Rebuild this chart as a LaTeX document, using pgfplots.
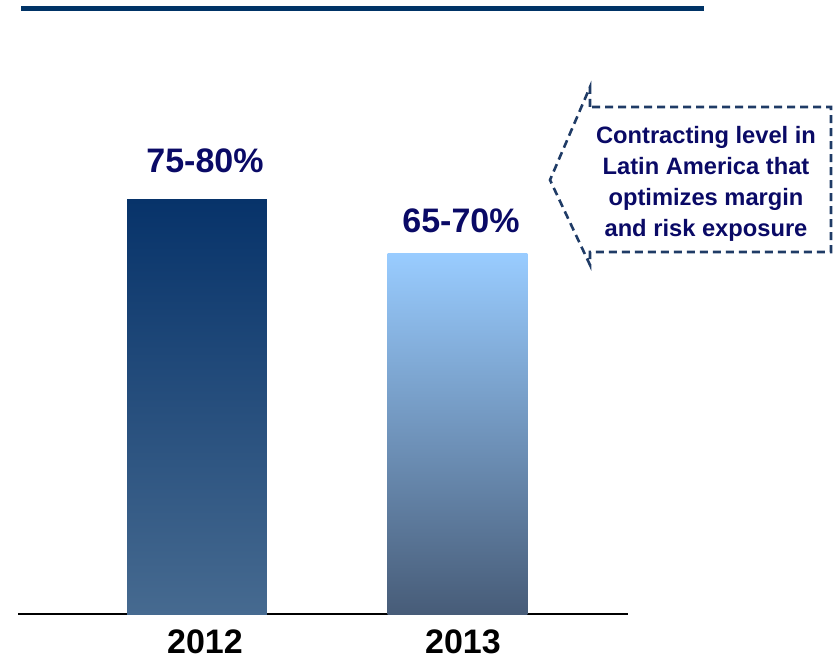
\documentclass[border=0pt]{standalone}
\usepackage{pgfplots}
\pgfplotsset{compat=1.18}
\usepackage{fontspec}
\setmainfont{Liberation Sans}
\definecolor{topline}{HTML}{003366}
\definecolor{aTop}{HTML}{07336A}
\definecolor{aMid}{HTML}{2D4B78}
\definecolor{aBot}{HTML}{466A90}
\definecolor{bTop}{HTML}{99CCFF}
\definecolor{bMid}{HTML}{7A9CC6}
\definecolor{bBot}{HTML}{475C78}
\definecolor{navytext}{HTML}{0A0A66}
\definecolor{callout}{HTML}{1F3B66}
\begin{document}
\begin{tikzpicture}[x=1pt,y=1pt]
\useasboundingbox (0,0) rectangle (834,659);
% top rule
\fill[topline] (21,648) rectangle (704,653);
\begin{axis}[
  at={(18pt,45pt)}, anchor=south west,
  scale only axis, width=610pt, height=534.2pt,
  xmin=-0.687, xmax=1.6545, ymin=0, ymax=100,
  axis x line=bottom, axis y line=none,
  x axis line style={-, line width=1.4pt, black},
  xtick=\empty, ytick=\empty,
  clip=false,
]
\addplot[ybar, bar width=0.537, bar shift=0pt, draw=none,
  top color=aTop, middle color=aMid, bottom color=aBot] coordinates {(0,77.5)};
\addplot[ybar, bar width=0.537, bar shift=0pt, draw=none,
  top color=bTop, middle color=bMid, bottom color=bBot] coordinates {(1,67.5)};
\end{axis}
% value labels
\node[anchor=base, text=navytext, font=\bfseries\fontsize{34}{40}\selectfont, inner sep=0pt] at (205,486) {75-80\%};
\node[anchor=base, text=navytext, font=\bfseries\fontsize{34}{40}\selectfont, inner sep=0pt] at (461,426) {65-70\%};
% category labels
\node[anchor=base, text=black, font=\bfseries\fontsize{34}{40}\selectfont, inner sep=0pt] at (205,6) {2012};
\node[anchor=base, text=black, font=\bfseries\fontsize{34}{40}\selectfont, inner sep=0pt] at (463,6) {2013};
% callout
\draw[callout, line width=2.6pt, dash pattern=on 8pt off 5pt]
  (590,552) -- (590,572) -- (550,479) -- (590,394) -- (590,407) -- (831,407) -- (831,552) -- cycle;
\node[text=navytext, font=\bfseries\fontsize{23.7}{31}\selectfont, align=center, inner sep=0pt] at (706,475)
  {Contracting level in\\Latin America that\\optimizes margin\\and risk exposure};
\end{tikzpicture}
\end{document}
